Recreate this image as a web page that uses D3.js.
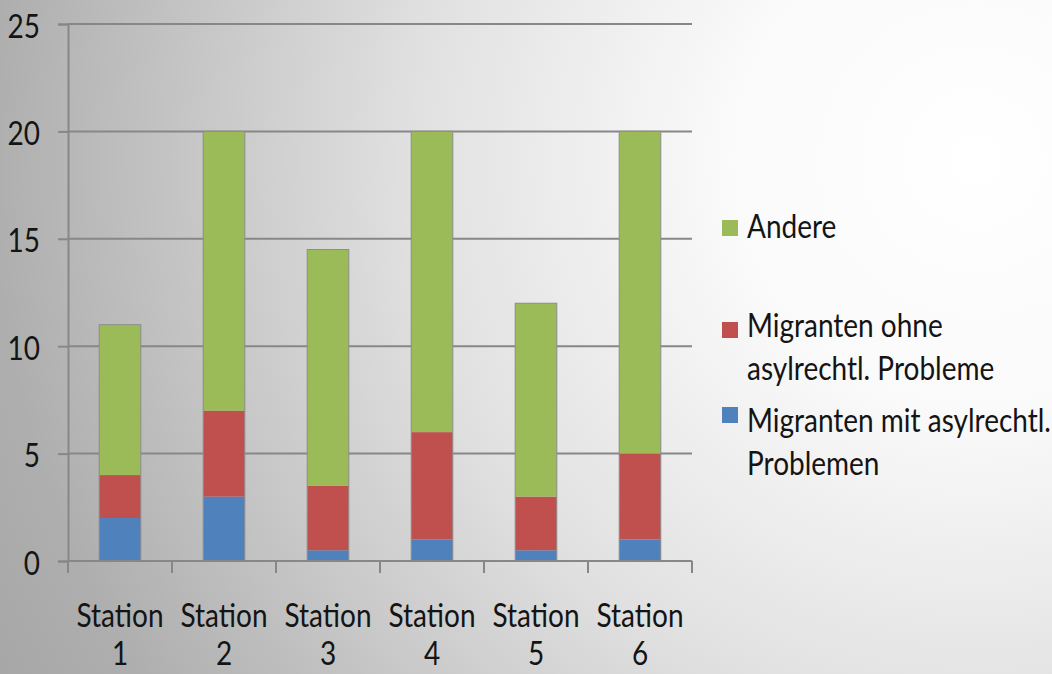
<!DOCTYPE html>
<html>
<head>
<meta charset="utf-8">
<script src="https://cdn.jsdelivr.net/npm/d3@7"></script>
<style>
    html, body { margin: 0; padding: 0; overflow: hidden; }
    svg { display: block; }
    text { font-family: Lato, "Open Sans", sans-serif; fill: #141414; }
</style>
</head>
<body>
<div id="chart"></div>
<script>
const stations = ["Station 1", "Station 2", "Station 3", "Station 4", "Station 5", "Station 6"];
const seriesKeys = ["mit", "ohne", "andere"];
const mitAsyl = [2, 3, 0.5, 1, 0.5, 1];
const ohneAsyl = [2, 4, 3, 5, 2.5, 4];
const andere = [7, 13, 11, 14, 9, 15];
const yTicks = [0, 5, 10, 15, 20, 25];
const legendLabels = [
    ["Andere"],
    ["Migranten ohne", "asylrechtl. Probleme"],
    ["Migranten mit asylrechtl.", "Problemen"]
];
const legendKeys = ["andere", "ohne", "mit"];

const width = 1052, height = 674;
const margin = { top: 24, right: 360, bottom: 113, left: 68 };
const plotW = width - margin.left - margin.right;
const plotH = height - margin.top - margin.bottom;
const colors = { mit: "#4F81BD", ohne: "#C0504D", andere: "#9BBB59" };
const gridColor = "#878787";
const stretch = 1.2;
const fontSize = "28px";

const data = stations.map((s, i) => ({ station: s, mit: mitAsyl[i], ohne: ohneAsyl[i], andere: andere[i] }));

const svg = d3.select("#chart")
    .append("svg")
    .attr("width", width)
    .attr("height", height);

// background
const defs = svg.append("defs");
const bg = defs.append("radialGradient")
    .attr("id", "bg")
    .attr("gradientUnits", "userSpaceOnUse")
    .attr("cx", 975).attr("cy", 160).attr("r", 1120);
bg.append("stop").attr("offset", 0).attr("stop-color", "#ffffff");
bg.append("stop").attr("offset", 0.22).attr("stop-color", "#fafafa");
bg.append("stop").attr("offset", 0.5).attr("stop-color", "#e1e1e1");
bg.append("stop").attr("offset", 0.88).attr("stop-color", "#aeaeae");
bg.append("stop").attr("offset", 1).attr("stop-color", "#a6a6a6");
svg.append("rect").attr("width", width).attr("height", height).attr("fill", "url(#bg)");

const g = svg.append("g").attr("transform", `translate(${margin.left},${margin.top})`);

const xScale = d3.scaleBand().domain(stations).range([0, plotW]).paddingInner(0.6).paddingOuter(0.3);
const yScale = d3.scaleLinear().domain([0, 25]).range([plotH, 0]);
const band = d3.scaleBand().domain(stations).range([0, plotW]);

// gridlines
g.selectAll(".grid")
    .data(yTicks)
    .enter().append("line")
    .attr("class", "grid")
    .attr("x1", 0)
    .attr("x2", plotW)
    .attr("y1", d => yScale(d))
    .attr("y2", d => yScale(d))
    .attr("stroke", gridColor)
    .attr("stroke-width", 2);

// y axis
const yAxis = g.append("g")
    .attr("class", "y-axis")
    .call(d3.axisLeft(yScale).tickValues(yTicks).tickSize(10).tickPadding(18));
yAxis.select(".domain").attr("stroke", gridColor).attr("stroke-width", 2);
yAxis.selectAll(".tick line").attr("stroke", gridColor).attr("stroke-width", 2);
yAxis.selectAll(".tick text")
    .attr("font-size", fontSize)
    .attr("font-family", "Lato, sans-serif")
    .attr("fill", "#141414")
    .attr("dy", null)
    .attr("dominant-baseline", "central")
    .attr("transform", `scale(1,${stretch})`)
    .attr("y", 0);

// stacked bars
const stack = d3.stack().keys(seriesKeys);
const layers = stack(data);

g.selectAll(".layer")
    .data(layers)
    .enter().append("g")
    .attr("class", "layer")
    .attr("fill", d => colors[d.key])
    .selectAll("rect")
    .data(d => d)
    .enter().append("rect")
    .attr("x", d => xScale(d.data.station))
    .attr("y", d => yScale(d[1]))
    .attr("width", xScale.bandwidth())
    .attr("height", d => yScale(d[0]) - yScale(d[1]));

g.selectAll(".bar-outline")
    .data(data)
    .enter().append("rect")
    .attr("class", "bar-outline")
    .attr("x", d => xScale(d.station))
    .attr("y", d => yScale(d.mit + d.ohne + d.andere))
    .attr("width", xScale.bandwidth())
    .attr("height", d => yScale(0) - yScale(d.mit + d.ohne + d.andere))
    .attr("fill", "none")
    .attr("stroke", "#8c8c8c")
    .attr("stroke-width", 1);

// x axis
g.append("line")
    .attr("x1", 0).attr("x2", plotW)
    .attr("y1", plotH).attr("y2", plotH)
    .attr("stroke", gridColor).attr("stroke-width", 2);

const boundaries = stations.map(s => band(s)).concat([plotW]);
g.selectAll(".xtick")
    .data(boundaries)
    .enter().append("line")
    .attr("class", "xtick")
    .attr("x1", d => d).attr("x2", d => d)
    .attr("y1", plotH).attr("y2", plotH + 12)
    .attr("stroke", gridColor).attr("stroke-width", 2);

const xLabels = g.selectAll(".xlabel")
    .data(stations)
    .enter().append("text")
    .attr("class", "xlabel")
    .attr("text-anchor", "middle")
    .attr("font-size", fontSize)
    .attr("transform", d => `translate(${band(d) + band.bandwidth() / 2},${plotH}) scale(1,${stretch})`);
xLabels.selectAll("tspan")
    .data(d => d.split(" "))
    .enter().append("tspan")
    .attr("x", 0)
    .attr("y", (d, i) => (66 + i * 38) / stretch)
    .text(d => d);

// legend
const legendTop = [220, 322, 407];
const legendBase = [238, 337, 432];
const legend = svg.append("g").attr("class", "legend");
legendKeys.forEach((k, i) => {
    const item = legend.append("g");
    item.append("rect")
        .attr("x", 722)
        .attr("y", legendTop[i])
        .attr("width", 16)
        .attr("height", 16)
        .attr("fill", colors[k]);
    legendLabels[i].forEach((line, j) => {
        item.append("text")
            .attr("font-size", fontSize)
            .attr("transform", `translate(747,${legendBase[i] + j * 43}) scale(1,${stretch})`)
            .text(line);
    });
});
</script>
</body>
</html>
